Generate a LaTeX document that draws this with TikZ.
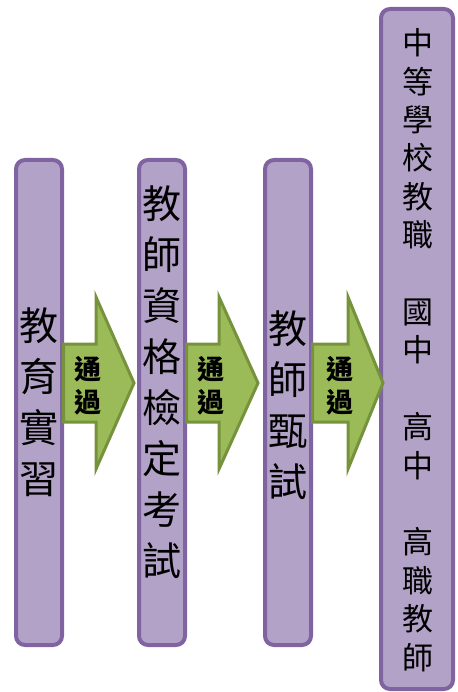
\documentclass[tikz,border=0pt]{standalone}
\usepackage{fontspec}
\newfontfamily\cjk{Noto Sans CJK TC}
\definecolor{boxfill}{HTML}{B3A2C7}
\definecolor{boxline}{HTML}{8064A2}
\definecolor{arrfill}{HTML}{9BBB59}
\definecolor{arrline}{HTML}{76923C}
\tikzset{
  stage/.style={draw=boxline, fill=boxfill, line width=4pt, rounded corners=9pt, inner sep=0pt},
  passarrow/.style={draw=arrline, fill=arrfill, line width=3pt, line join=miter},
  bigtext/.style={align=center, inner sep=0pt, font=\cjk\fontsize{39}{51}\selectfont},
  smalltext/.style={align=center, inner sep=0pt, font=\cjk\fontsize{31}{38.4}\selectfont},
  passtext/.style={align=center, inner sep=0pt, font=\cjk\bfseries\fontsize{27}{33}\selectfont},
}
\begin{document}
\begin{tikzpicture}[x=1pt, y=-1pt]
\useasboundingbox (0,0) rectangle (457,692);
% boxes
\node[stage, minimum width=46pt, minimum height=485pt] (b1) at (39,402.5) {};
\node[stage, minimum width=46pt, minimum height=485pt] (b2) at (162,402.5) {};
\node[stage, minimum width=46pt, minimum height=485pt] (b3) at (288,402.5) {};
\node[stage, minimum width=72pt, minimum height=680pt] (b4) at (417,349) {};
% arrows
\path[passarrow] (63.5,344) -- (96,344) -- (96,297) -- (134,383) -- (96,469) -- (96,422) -- (63.5,422) -- cycle;
\path[passarrow] (186.5,344) -- (219,344) -- (219,297) -- (258,383) -- (219,469) -- (219,422) -- (186.5,422) -- cycle;
\path[passarrow] (312.5,344) -- (348,344) -- (348,297) -- (383,383) -- (348,469) -- (348,422) -- (312.5,422) -- cycle;
% texts
\node[bigtext] (t1) at (39,402) {教\\育\\實\\習};
\node[bigtext] (t2) at (162,382.5) {教\\師\\資\\格\\檢\\定\\考\\試};
\node[bigtext] (t3) at (288,405) {教\\師\\甄\\試};
\node[smalltext] (t4) at (418,350) {中\\等\\學\\校\\教\\職\\\phantom{中}\\國\\中\\\phantom{中}\\高\\中\\\phantom{中}\\高\\職\\教\\師};
\node[passtext] (p1) at (88,386) {通\\過};
\node[passtext] (p2) at (211,386) {通\\過};
\node[passtext] (p3) at (340,386) {通\\過};
\end{tikzpicture}
\end{document}
